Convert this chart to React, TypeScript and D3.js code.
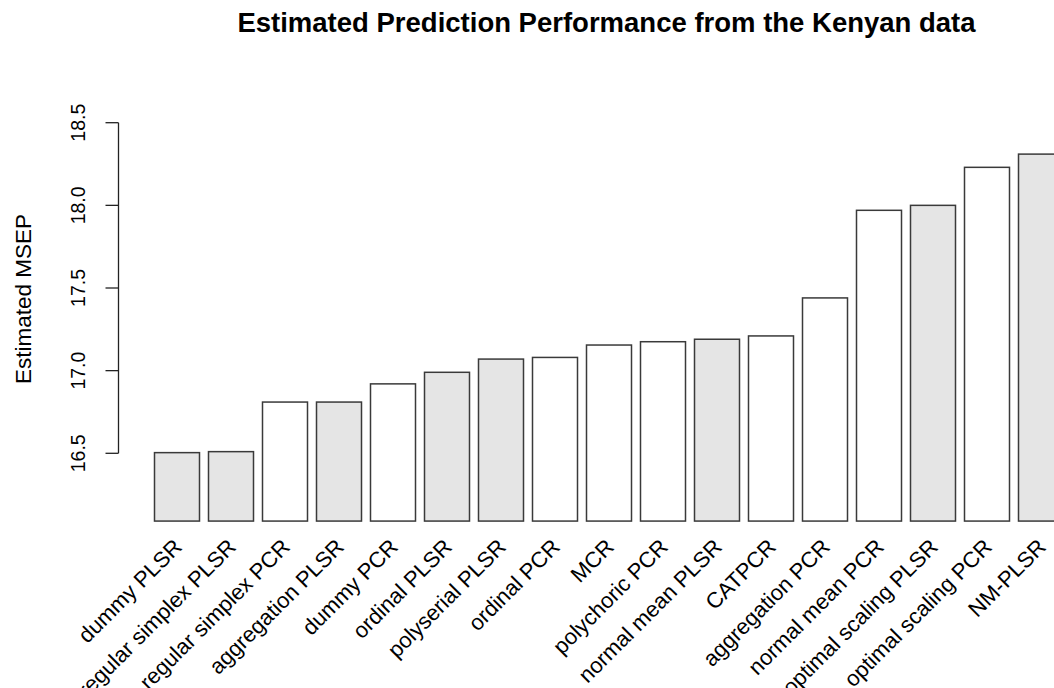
import React, { useRef, useEffect } from "react";
import * as d3 from "d3";

// Estimated MSEP per method (sorted ascending)
const methods = [
  "dummy PLSR",
  "regular simplex PLSR",
  "regular simplex PCR",
  "aggregation PLSR",
  "dummy PCR",
  "ordinal PLSR",
  "polyserial PLSR",
  "ordinal PCR",
  "MCR",
  "polychoric PCR",
  "normal mean PLSR",
  "CATPCR",
  "aggregation PCR",
  "normal mean PCR",
  "optimal scaling PLSR",
  "optimal scaling PCR",
  "NM-PLSR",
];
const msep = [
  16.504, 16.51, 16.81, 16.81, 16.92, 16.99, 17.07, 17.08, 17.155, 17.175,
  17.19, 17.21, 17.44, 17.97, 18.0, 18.23, 18.31,
];
// grey vs white fill per bar
const shaded = [
  true, true, false, true, false, true, true, false, false, false,
  true, false, false, false, true, false, true,
];
const yTicks = [16.5, 17.0, 17.5, 18.0, 18.5];
const yLow = 16.09;

const FONT = "Arial, 'Liberation Sans', Helvetica, sans-serif";

export default function App() {
  const svgRef = useRef<SVGSVGElement>(null);

  useEffect(() => {
    const width = 1054;
    const height = 688;
    const svg = d3.select(svgRef.current);
    svg.selectAll("*").remove();
    svg.attr("width", width).attr("height", height);

    const x = d3
      .scaleBand()
      .domain(methods)
      .range([150, 150 + 54 * methods.length])
      .paddingInner(1 / 6)
      .paddingOuter(1 / 12);

    const y = d3.scaleLinear().domain([16.5, 18.5]).range([453.3, 122.7]);

    // title
    svg
      .append("text")
      .attr("x", 606.5)
      .attr("y", 32)
      .attr("text-anchor", "middle")
      .attr("font-family", FONT)
      .attr("font-weight", "bold")
      .attr("font-size", 27.5)
      .text("Estimated Prediction Performance from the Kenyan data");

    // bars
    const rows = methods.map((m, i) => ({ m, v: msep[i], s: shaded[i] }));
    svg
      .append("g")
      .selectAll("rect")
      .data(rows)
      .join("rect")
      .attr("x", (d) => x(d.m)!)
      .attr("width", x.bandwidth())
      .attr("y", (d) => y(d.v))
      .attr("height", (d) => y(yLow) - y(d.v))
      .attr("fill", (d) => (d.s ? "#e5e5e5" : "#ffffff"))
      .attr("stroke", "#3a3a3a")
      .attr("stroke-width", 1.5);

    // y axis, R style: line only spans the ticks
    const ax = svg.append("g").attr("font-family", FONT);
    const axisX = 118.5;
    ax.append("line")
      .attr("x1", axisX)
      .attr("x2", axisX)
      .attr("y1", y(yTicks[0]))
      .attr("y2", y(yTicks[yTicks.length - 1]))
      .attr("stroke", "#222")
      .attr("stroke-width", 1.3);
    const tk = ax.selectAll("g.tick").data(yTicks).join("g").attr("class", "tick");
    tk.append("line")
      .attr("x1", axisX)
      .attr("x2", axisX - 13)
      .attr("y1", (d) => y(d))
      .attr("y2", (d) => y(d))
      .attr("stroke", "#222")
      .attr("stroke-width", 1.3);
    tk.append("text")
      .attr("transform", (d) => `translate(78,${y(d)}) rotate(-90)`)
      .attr("text-anchor", "middle")
      .attr("dominant-baseline", "central")
      .attr("font-size", 19.5)
      .text((d) => d.toFixed(1));

    // y label
    svg
      .append("text")
      .attr("transform", `translate(23,299) rotate(-90)`)
      .attr("text-anchor", "middle")
      .attr("dominant-baseline", "central")
      .attr("font-family", FONT)
      .attr("font-size", 22.5)
      .text("Estimated MSEP");

    // rotated category labels
    svg
      .append("g")
      .selectAll("text")
      .data(methods)
      .join("text")
      .attr(
        "transform",
        (d) => `translate(${x(d)! + x.bandwidth() / 2 + 1},543) rotate(-45)`
      )
      .attr("text-anchor", "end")
      .attr("dominant-baseline", "central")
      .attr("font-family", FONT)
      .attr("font-size", 22)
      .text((d) => d);
  }, []);

  return (
    <div style={{ position: "absolute", left: 0, top: 0, width: 1054, height: 688, overflow: "hidden", background: "#fff" }}>
      <svg ref={svgRef} />
    </div>
  );
}
